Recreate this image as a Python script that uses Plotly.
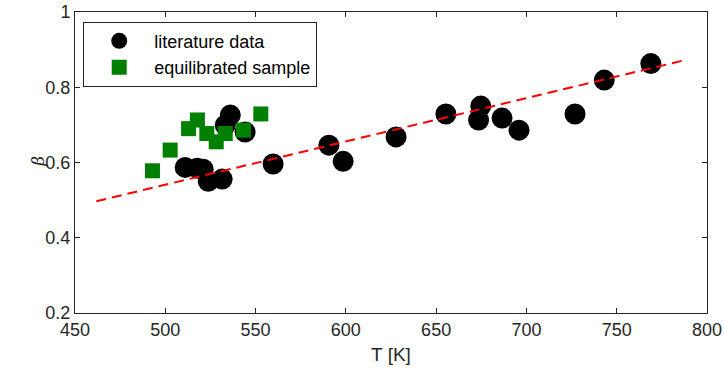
import plotly.graph_objects as go

# literature data
lit_T = [511.0, 517.7, 521.0, 523.8, 531.5, 536.0, 533.2, 544.2, 559.7, 590.6,
         598.5, 627.8, 655.4, 674.7, 673.5, 686.5, 695.9, 726.9, 743.1, 768.9]
lit_beta = [0.587, 0.585, 0.582, 0.550, 0.556, 0.726, 0.699, 0.681, 0.596, 0.646,
            0.603, 0.668, 0.729, 0.750, 0.713, 0.718, 0.686, 0.729, 0.819, 0.863]

# equilibrated sample
eq_T = [492.9, 502.7, 512.9, 517.8, 523.0, 528.2, 533.2, 543.3, 552.9]
eq_beta = [0.578, 0.633, 0.690, 0.713, 0.677, 0.655, 0.677, 0.686, 0.729]

# linear fit line
fit_T = [461.8, 787.7]
fit_beta = [0.497, 0.872]

x_ticks = [450, 500, 550, 600, 650, 700, 750, 800]
y_ticks = [0.2, 0.4, 0.6, 0.8, 1.0]
y_tick_labels = ["0.2", "0.4", "0.6", "0.8", "1"]

font = "Liberation Sans, Arial, sans-serif"

fig = go.Figure()
fig.add_trace(go.Scatter(
    x=lit_T, y=lit_beta, mode="markers", name="literature data",
    marker=dict(symbol="circle", size=21, color="black", line=dict(width=0)),
))
fig.add_trace(go.Scatter(
    x=eq_T, y=eq_beta, mode="markers", name="equilibrated sample",
    marker=dict(symbol="square", size=15, color="#008000", line=dict(width=0)),
))
fig.add_trace(go.Scatter(
    x=fit_T, y=fit_beta, mode="lines", showlegend=False,
    line=dict(color="#ff0000", width=2, dash="10px,6px"),
))

axis_common = dict(
    showgrid=False, zeroline=False, showline=True, linecolor="#262626",
    linewidth=1, mirror="ticks", ticks="inside", ticklen=5, automargin=False,
    tickcolor="#262626", tickfont=dict(family=font, size=18, color="#262626"),
)

fig.update_layout(
    width=724, height=377,
    margin=dict(l=75, r=17, t=12, b=64, autoexpand=False),
    paper_bgcolor="white", plot_bgcolor="white",
    font=dict(family=font, color="#262626"),
    xaxis=dict(range=[450, 800], tickvals=x_ticks,
               title=dict(text="T [K]", font=dict(family=font, size=19), standoff=9),
               **axis_common),
    yaxis=dict(range=[0.2, 1.0], tickvals=y_ticks, ticktext=y_tick_labels,
               **axis_common),
    legend=dict(x=0.013, y=0.968, xanchor="left", yanchor="top",
                bgcolor="white", bordercolor="#262626", borderwidth=1,
                font=dict(family=font, size=18, color="black"),
                tracegroupgap=0, itemwidth=60),
    showlegend=True,
    annotations=[dict(
        text="β", xref="paper", yref="paper", x=-0.059, y=0.505,
        xanchor="center", yanchor="middle", showarrow=False, textangle=-90,
        font=dict(family="DejaVu Serif, serif", size=17, style="italic", color="#262626"),
    )],
)

fig.write_html("out.html")
